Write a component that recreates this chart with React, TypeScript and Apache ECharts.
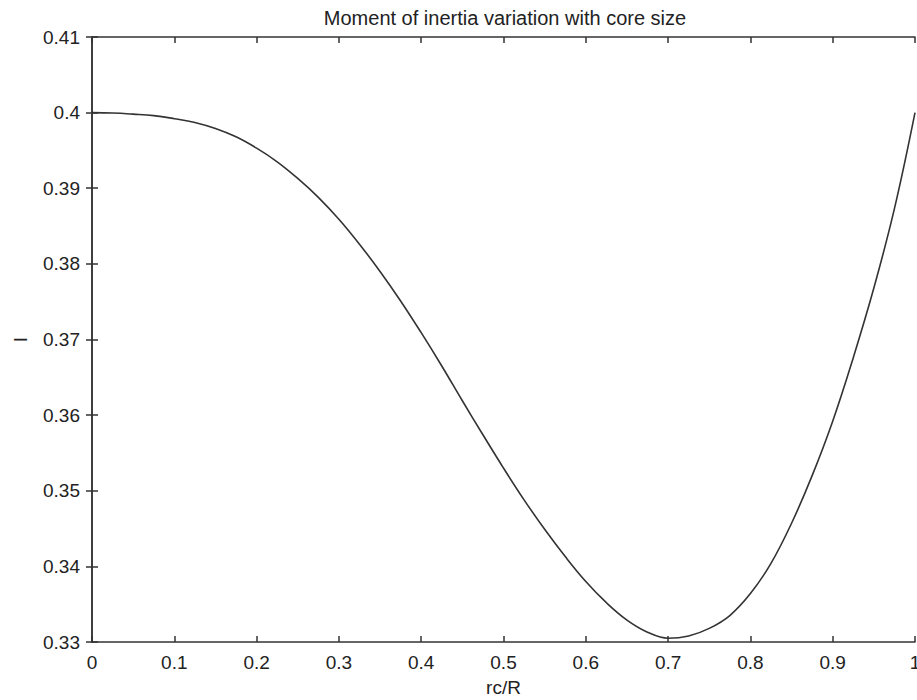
import React, { useEffect, useRef } from "react";
import * as echarts from "echarts";

const titleText = "Moment of inertia variation with core size";
const xName = "rc/R";
const yName = "I";

const xValues = [
  0, 0.025, 0.05, 0.075, 0.1, 0.125, 0.15, 0.175, 0.2, 0.225, 0.25, 0.275, 0.3,
  0.325, 0.35, 0.375, 0.4, 0.425, 0.45, 0.475, 0.5, 0.525, 0.55, 0.575, 0.6,
  0.625, 0.65, 0.675, 0.7, 0.725, 0.75, 0.775, 0.8, 0.825, 0.85, 0.875, 0.9,
  0.925, 0.95, 0.975, 1.0,
];
const iValues = [
  0.4, 0.39995, 0.3998, 0.3996, 0.3992, 0.3987, 0.3979, 0.3968, 0.3953, 0.3935,
  0.3913, 0.3888, 0.3859, 0.3826, 0.379, 0.3751, 0.3709, 0.3665, 0.3619,
  0.3574, 0.353, 0.3488, 0.3449, 0.3413, 0.338, 0.3352, 0.3329, 0.3313,
  0.3305, 0.3308, 0.3318, 0.3335, 0.3364, 0.3404, 0.3457, 0.352, 0.3592,
  0.3676, 0.3768, 0.3873, 0.4,
];

const font = "Liberation Sans, Arial, sans-serif";
const ink = "#222";

export default function App() {
  const ref = useRef<HTMLDivElement>(null);
  useEffect(() => {
    if (!ref.current) return;
    const chart = echarts.init(ref.current, undefined, { renderer: "svg" });
    const axisLine = { show: true, lineStyle: { color: "#333", width: 1.5 } };
    const axisTick = { show: true, inside: true, length: 6, lineStyle: { color: "#333", width: 1.5 } };
    chart.setOption({
      animation: false,
      backgroundColor: "#fff",
      title: {
        text: titleText,
        left: 500,
        textAlign: "center",
        top: 3,
        textStyle: { fontFamily: font, fontSize: 20, fontWeight: "normal", color: ink },
      },
      grid: { left: 92, right: 2, top: 37, bottom: 58, outerBoundsMode: "none", containLabel: false },
      xAxis: [
        {
          type: "value",
          min: 0,
          max: 1,
          interval: 0.1,
          position: "bottom",
          name: xName,
          nameLocation: "middle",
          nameGap: 36,
          nameTextStyle: { fontFamily: font, fontSize: 19, color: ink },
          axisLine,
          axisTick,
          splitLine: { show: false },
          axisLabel: {
            fontFamily: font,
            fontSize: 19,
            color: ink,
            margin: 11,
            formatter: (v: number) => String(Math.round(v * 10) / 10),
          },
        },
        {
          type: "value",
          min: 0,
          max: 1,
          interval: 0.1,
          position: "top",
          axisLine,
          axisTick,
          splitLine: { show: false },
          axisLabel: { show: false },
        },
      ],
      yAxis: [
        {
          type: "value",
          min: 0.33,
          max: 0.41,
          interval: 0.01,
          position: "left",
          name: yName,
          nameLocation: "middle",
          nameGap: 62,
          nameTextStyle: { fontFamily: font, fontSize: 19, color: ink },
          axisLine,
          axisTick,
          splitLine: { show: false },
          axisLabel: {
            fontFamily: font,
            fontSize: 19,
            color: ink,
            margin: 12,
            formatter: (v: number) => String(Math.round(v * 100) / 100),
          },
        },
        {
          type: "value",
          min: 0.33,
          max: 0.41,
          interval: 0.01,
          position: "right",
          axisLine,
          axisTick,
          splitLine: { show: false },
          axisLabel: { show: false },
        },
      ],
      series: [
        {
          type: "line",
          data: xValues.map((x, i) => [x, iValues[i]]),
          smooth: 0.4,
          showSymbol: false,
          symbol: "none",
          lineStyle: { color: "#333", width: 1.6 },
        },
      ],
    });
    return () => chart.dispose();
  }, []);
  return <div ref={ref} style={{ width: 917, height: 700, position: "absolute", left: 0, top: 0 }} />;
}
